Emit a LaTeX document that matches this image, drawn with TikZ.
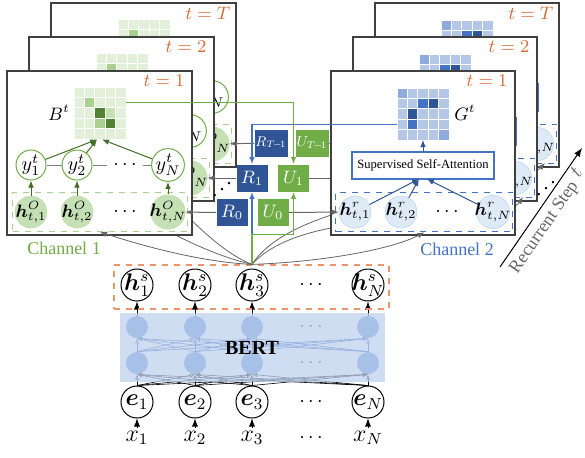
\documentclass[tikz,border=0pt]{standalone}
\usepackage{fontspec}
\setmainfont{Liberation Serif}
\usepackage{bm}
\usepackage{graphicx}
\usetikzlibrary{arrows.meta,fit}

\definecolor{gline}{HTML}{70AD47}
\definecolor{gdark}{HTML}{3F6F27}
\definecolor{gA}{HTML}{E2F0D9}
\definecolor{gB}{HTML}{A9D18E}
\definecolor{gC}{HTML}{C5E0B4}
\definecolor{gD}{HTML}{548235}
\definecolor{bline}{HTML}{4472C4}
\definecolor{bdark}{HTML}{2F5597}
\definecolor{bA}{HTML}{B4C7E7}
\definecolor{bB}{HTML}{8FAADC}
\definecolor{bC}{HTML}{4472C4}
\definecolor{bD}{HTML}{2F5597}
\definecolor{hofill}{HTML}{C5E0B4}
\definecolor{hrfill}{HTML}{DEEBF7}
\definecolor{hrdraw}{HTML}{BDD7EE}
\definecolor{tcol}{HTML}{D46A34}
\definecolor{ocol}{HTML}{E9966A}
\definecolor{bertbg}{RGB}{190,210,238}
\definecolor{bertcirc}{RGB}{100,140,215}
\definecolor{bertline}{RGB}{40,80,180}
\definecolor{fangray}{HTML}{666666}
\definecolor{panelgray}{HTML}{404040}

% one level of the recurrence: channel 1 and channel 2 side by side
\newcommand{\panelpair}[1]{%
  % channel 1
  \draw[panel] (7,71) rectangle (192,235);
  \node[stamp] (tL#1) at (164,81) {$t=#1$};
  \foreach \i in {0,...,4}
    \foreach \j in {0,...,4}
      \filldraw[cell, fill=gA] ({74+10.4*\i},{87+10.4*\j}) rectangle +(10.4,10.4);
  \foreach \i/\j/\c in {1/1/gB, 2/2/gD, 3/2/gC, 2/3/gB, 3/3/gD}
    \filldraw[cell, fill=\c] ({74+10.4*\i},{87+10.4*\j}) rectangle +(10.4,10.4);
  \node[font=\small] (Blab#1) at (59,113) {$B^t$};
  \coordinate (Bout#1) at (126,102.6);
  \coordinate (BinA#1) at (97,139.5);
  \coordinate (BinB#1) at (102,139.5);
  \node[ynode] (yA#1) at (31,165) {$y^t_1$};
  \node[ynode] (yB#1) at (77,165) {$y^t_2$};
  \node[inner sep=3pt] (yD#1) at (125,165) {$\cdots$};
  \node[ynode] (yN#1) at (168,165) {$y^t_N$};
  \draw[gray, line width=0.4pt] (yA#1) -- (yB#1) -- (yD#1) -- (yN#1);
  \node[honode] (hOA#1) at (31,212) {$\bm{h}^O_{t,1}$};
  \node[honode] (hOB#1) at (77,212) {$\bm{h}^O_{t,2}$};
  \node (hOD#1) at (125,212) {$\cdots$};
  \node[honode] (hON#1) at (168,212) {$\bm{h}^O_{t,N}$};
  \node[gbox, fit=(hOA#1)(hON#1)] (Lbox#1) {};
  \draw[garrow] (hOA#1) -- (yA#1);
  \draw[garrow] (hOB#1) -- (yB#1);
  \draw[garrow] (hON#1) -- (yN#1);
  \draw[garrow] (yA#1) -- (BinA#1);
  \draw[garrow] (yB#1) -- (BinA#1);
  \draw[garrow] (yN#1) -- (BinB#1);
  % channel 2
  \draw[panel] (331,71) rectangle (515,235);
  \node[stamp] (tR#1) at (487,81) {$t=#1$};
  \foreach \i in {0,...,4}
    \foreach \j in {0,...,4}
      \filldraw[cell, fill=bA] ({397+10.4*\i},{88+10.4*\j}) rectangle +(10.4,10.4);
  \foreach \i/\j/\c in {0/0/bB, 2/1/bC, 3/1/bD, 1/2/bD, 1/3/bC, 4/4/bB}
    \filldraw[cell, fill=\c] ({397+10.4*\i},{88+10.4*\j}) rectangle +(10.4,10.4);
  \node[font=\small] (Glab#1) at (465,113) {$G^t$};
  \coordinate (Gin#1) at (397,124.4);
  \coordinate (Gbot#1) at (423,140);
  \node[ssa] (SSA#1) at (423,165.5) {Supervised Self-Attention};
  \coordinate (SinA#1) at (419,179);
  \coordinate (SinB#1) at (427,179);
  \node[hrnode] (hrA#1) at (355,212) {$\bm{h}^r_{t,1}$};
  \node[hrnode] (hrB#1) at (401,212) {$\bm{h}^r_{t,2}$};
  \node (hrD#1) at (447,212) {$\cdots$};
  \node[hrnode] (hrN#1) at (493,212) {$\bm{h}^r_{t,N}$};
  \node[bbox, fit=(hrA#1)(hrN#1)] (Rbox#1) {};
  \coordinate (rin#1) at (501,231);
  \draw[barrow] (hrA#1) -- (SinA#1);
  \draw[barrow] (hrB#1) -- (SinA#1);
  \draw[barrow] (hrN#1) -- (SinB#1);
  \draw[barrow] (SSA#1) -- (Gbot#1);
}

\begin{document}
\begin{tikzpicture}
    [
      x=0.5pt, y=-0.5pt,
      every node/.style={inner sep=0pt},
      panel/.style={draw=panelgray, fill=white, line width=0.6pt},
      stamp/.style={text=tcol, font=\small},
      cell/.style={draw=white, line width=0.5pt},
      ynode/.style={circle, draw=gline, fill=white, line width=0.5pt, minimum size=15pt},
      honode/.style={circle, fill=hofill, draw=gC, line width=0.3pt, minimum size=16pt, inner sep=-1.5pt, font=\small},
      hrnode/.style={circle, fill=hrfill, draw=hrdraw, line width=0.3pt, minimum size=16pt, inner sep=-1.5pt, font=\small},
      gbox/.style={draw=gB, dashed, line width=0.5pt, inner sep=1pt},
      bbox/.style={draw=bline, dashed, line width=0.5pt, inner sep=1.5pt},
      ssa/.style={draw=bline, fill=white, line width=0.6pt, minimum width=71pt, minimum height=13.5pt, font=\fontsize{6.3}{7}\selectfont},
      garrow/.style={draw=gdark, line width=0.5pt, -{Latex[length=3.5pt,width=2.8pt]}},
      barrow/.style={draw=bdark, line width=0.5pt, -{Latex[length=3.5pt,width=2.8pt]}},
      rbox/.style={fill=bdark, text=white, minimum width=15.5pt, minimum height=13.5pt, font=\small},
      ubox/.style={rbox, fill=gline},
      link/.style={draw=fangray, line width=0.5pt, -{Latex[length=3.5pt,width=2.8pt]}},
      fan/.style={draw=fangray, line width=0.4pt, -{Latex[length=3.5pt,width=2.8pt]}},
      gpath/.style={draw=gline, line width=0.7pt, -{Latex[length=3.5pt,width=2.8pt]}},
      bpath/.style={draw=bline, line width=0.7pt, -{Latex[length=3.5pt,width=2.8pt]}},
      enode/.style={circle, draw, fill=white, line width=0.5pt, minimum size=16pt, inner sep=-1.5pt, font=\large},
      bnode/.style={circle, fill=bertcirc, minimum size=11pt},
      elink/.style={draw=black, line width=0.3pt, -{Latex[open,length=2.5pt,width=2pt]}},
      blink/.style={draw=bertline, line width=0.3pt, -{Latex[open,length=2.5pt,width=2pt]}},
      obox/.style={draw=ocol, dashed, line width=0.6pt, inner sep=0pt},
      bertbox/.style={fill=bertbg, fill opacity=0.75, inner sep=0pt},
    ]

    \useasboundingbox (0,0) rectangle (585,457);

    % BERT encoder
    \foreach \n/\x in {1/137, 2/195, 3/252, N/368} {
      \node[inner sep=1.5pt, font=\large] (x\n) at (\x,438) {$x_\n$};
      \node[enode] (e\n) at (\x,402) {$\bm{e}_\n$};
      \node[bnode] (lo\n) at (\x,363) {};
      \node[bnode] (up\n) at (\x,327) {};
      \node[enode] (hs\n) at (\x,285) {$\bm{h}^s_\n$};
      \draw[-latex] (x\n) -- (e\n);
      \draw[-latex] (up\n) -- (hs\n);
    }
    \node (xD) at (311,438) {$\cdots$};
    \node (eD) at (311,402) {$\cdots$};
    \node (hsD) at (311,285) {$\cdots$};
    \foreach \a in {1,2,3,N}
      \foreach \b in {1,2,3,N} {
        \draw[elink] (e\a.north) -- (lo\b.south);
        \draw[blink] (lo\a.north) -- (up\b.south);
      }
    \node[bertbox, fit={(120,313) (385,382)}] (bert) {};
    \node[font=\bfseries] (bertlab) at (252,348) {BERT};
    \node[text=gray!70] (upD) at (311,327) {$\cdots$};
    \node[text=gray!70] (loD) at (311,363) {$\cdots$};
    \node[obox, fit={(114,265) (389,309)}] (hsbox) {};
    \coordinate (hub) at (hs3 |- hsbox.north);

    % recurrent inputs
    \node[rbox, minimum width=16.5pt] (RT) at (271,143) {\resizebox{15.5pt}{!}{$R_{T\mkern-3mu-\mkern-3mu1}$}};
    \node[ubox, minimum width=16.5pt] (UT) at (312,143) {\resizebox{15.5pt}{!}{$U_{T\mkern-3mu-\mkern-3mu1}$}};
    \node[rbox] (R1) at (252,178) {$R_1$};
    \node[ubox] (U1) at (293.5,178) {$U_1$};
    \node[rbox] (R0) at (232,212.5) {$R_0$};
    \node[ubox] (U0) at (273,212.5) {$U_0$};

    % t = T
    \begin{scope}[shift={(44,-68)}]
      \panelpair{T}
    \end{scope}
    \draw[link] (RT) -- (hONT);
    \draw[link] (UT) -- (hrAT);
    \draw[fan] (hub) .. controls (215,250) and (170,200) .. (LboxT.south);
    \draw[fan] (hub) .. controls (300,190) and (520,190) .. (rinT);

    % t = 2
    \begin{scope}[shift={(22,-34)}]
      \panelpair{2}
    \end{scope}
    \draw[link] (R1) -- (hON2);
    \draw[link] (U1) -- (hrA2);
    \draw[fan] (hub) .. controls (210,255) and (150,225) .. (Lbox2.south);
    \draw[fan] (hub) .. controls (310,200) and (500,230) .. (rin2);

    % t = 1
    \panelpair{1}
    \draw[link] (R0) -- (hON1);
    \draw[link] (U0) -- (hrA1);
    \draw[fan] (hub) .. controls (200,262) and (140,245) .. (Lbox1.south);
    \draw[fan] (hub) .. controls (320,262) and (390,250) .. (Rbox1.south);

    % feedback of B^t and G^t
    \draw[bpath] (hub) -- (R1);
    \draw[gpath] (hub) -- ++(0,-30) -| (U1);
    \draw[bpath] (Gin1) -| (R1);
    \draw[gpath] (Bout1) -| (U1);

    \node (ddL) at (222,183) {\reflectbox{$\ddots$}};
    \node (ddR) at (546,182) {\reflectbox{$\ddots$}};

    \node[text=gline, font=\small] (ch1) at (64,248) {Channel 1};
    \node[text=bline, font=\small] (ch2) at (457,249) {Channel 2};

    \coordinate (rsA) at (500,267);
    \coordinate (rsB) at (582,148);
    \draw[-latex, line width=0.5pt] (rsA) -- (rsB)
      node[pos=0.4, sloped, below=3pt, text=fangray, font=\small] (rslab) {Recurrent Step}
      node[pos=0.84, sloped, below=1pt, text=fangray] (rst) {$t$};
  \end{tikzpicture}
\end{document}
